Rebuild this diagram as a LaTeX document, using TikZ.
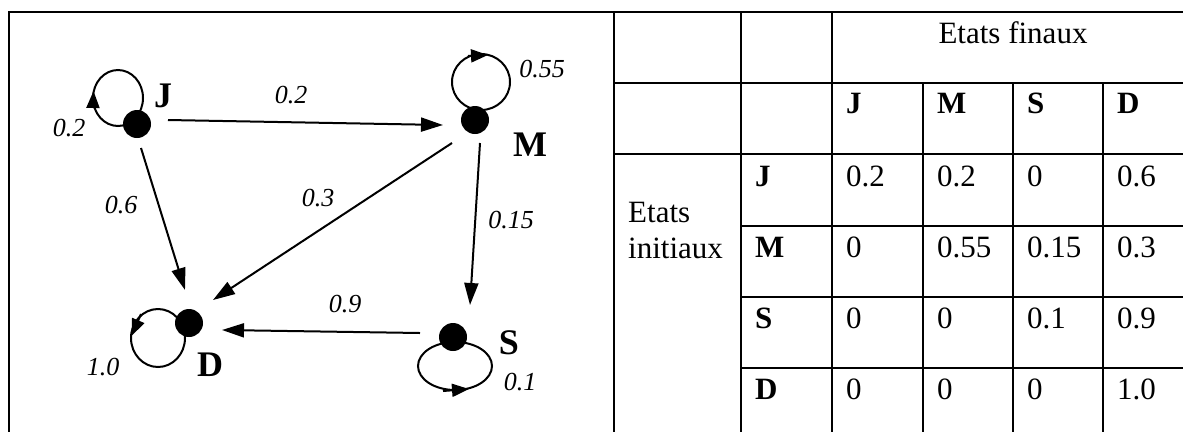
\documentclass[tikz,border=0pt]{standalone}
\usepackage{fontspec}
\setmainfont{Liberation Serif}
\usetikzlibrary{arrows.meta}
\begin{document}
\begin{tikzpicture}[x=1pt,y=-1pt,
  dot/.style={circle,fill=black,inner sep=0pt,minimum size=28pt},
  arr/.style={line width=2pt,-{Triangle[length=22pt,width=14pt]}},
  loopline/.style={line width=2pt},
  loophead/.style={line width=2pt,-{Triangle[length=17pt,width=13pt]}},
  st/.style={font=\fontsize{36}{42}\selectfont\bfseries, inner sep=0pt},
  pr/.style={font=\fontsize{26}{31}\selectfont\itshape, inner sep=0pt},
  tab/.style={line width=2.2pt},
  cell/.style={anchor=base west, inner sep=0pt, font=\fontsize{31}{37}\selectfont},
  cellb/.style={cell, font=\fontsize{31}{37}\selectfont\bfseries},
]
\useasboundingbox (0,0) rectangle (1183,432);
% frame
\draw[line width=1.5pt] (8,12) -- (614,12);
\draw[line width=2.7pt] (8,12) -- (22,12);
\draw[line width=2.7pt] (9,11) -- (9,432);
% states
\node[dot] (J) at (137,124) {};
\node[dot] (M) at (475,120) {};
\node[dot] (D) at (189,323) {};
\node[dot] (S) at (453,337) {};
% loops
\draw[loopline] ([shift={(-19,-26)}]J.center) ellipse [x radius=25pt, y radius=28pt];
\draw[loophead] ([shift={(-44,-16)}]J.center) -- ([shift={(-43.5,-33)}]J.center);
\draw[loopline] ([shift={(6,-38)}]M.center) ellipse [x radius=29pt, y radius=28pt];
\draw[loophead] ([shift={(-7,-64)}]M.center) -- ([shift={(13,-65)}]M.center);
\draw[loopline] ([shift={(-31,15)}]D.center) ellipse [x radius=27pt, y radius=29pt];
\draw[loophead] ([shift={(-48,-9)}]D.center) -- ([shift={(-57.5,13)}]D.center);
\draw[loopline] ([shift={(2,29)}]S.center) ellipse [x radius=37pt, y radius=24pt];
\draw[loophead] ([shift={(-10,54)}]S.center) -- ([shift={(16,52)}]S.center);
% transitions
\draw[arr] ([shift={(31,-4)}]J.center) -- ([shift={(-32,5)}]M.center);
\draw[arr] ([shift={(4,24)}]J.center) -- ([shift={(-4,-33)}]D.center);
\draw[arr] ([shift={(-23,23)}]M.center) -- ([shift={(24,-23)}]D.center);
\draw[arr] ([shift={(5,23)}]M.center) -- ([shift={(17,-32)}]S.center);
\draw[arr] ([shift={(-33,-4)}]S.center) -- ([shift={(33,7)}]D.center);
% state labels
\node[st] (lJ) at (163,96) {J};
\node[st] (lM) at (530,145) {M};
\node[st] (lD) at (210,365) {D};
\node[st] (lS) at (509,343) {S};
% probabilities
\node[pr] (pJJ) at (69,128) {0.2};
\node[pr] (pJM) at (291,95) {0.2};
\node[pr] (pMM) at (542,69) {0.55};
\node[pr] (pJD) at (121,205) {0.6};
\node[pr] (pMD) at (318,198) {0.3};
\node[pr] (pMS) at (511,220) {0.15};
\node[pr] (pSD) at (345,304) {0.9};
\node[pr] (pDD) at (103,367) {1.0};
\node[pr] (pSS) at (520,382) {0.1};
% table grid
\draw[tab] (614,12) -- (1183,12);
\draw[tab] (614,11) -- (614,432);
\draw[tab] (741,11) -- (741,432);
\draw[tab] (832,11) -- (832,432);
\foreach \xx in {923,1013,1103} \draw[tab] (\xx,83) -- (\xx,432);
\draw[tab] (614,83) -- (1183,83);
\draw[tab] (614,154) -- (1183,154);
\foreach \yy in {226,297,368} \draw[tab] (741,\yy) -- (1183,\yy);
% table text
\node[cell, anchor=base] (tf) at (1013,43) {Etats finaux};
\node[cell] (ti1) at (628,222) {Etats};
\node[cell] (ti2) at (628,258) {initiaux};
\node[cellb] (hJ) at (846,113) {J};
\node[cellb] (hM) at (937,113) {M};
\node[cellb] (hS) at (1027,113) {S};
\node[cellb] (hD) at (1117,113) {D};
\node[cellb] (rJ) at (755,186) {J};
\node[cellb] (rM) at (755,257) {M};
\node[cellb] (rS) at (755,328) {S};
\node[cellb] (rD) at (755,399) {D};
\node[cell] at (846,186) {0.2};
\node[cell] at (937,186) {0.2};
\node[cell] at (1027,186) {0};
\node[cell] at (1117,186) {0.6};
\node[cell] at (846,257) {0};
\node[cell] at (937,257) {0.55};
\node[cell] at (1027,257) {0.15};
\node[cell] at (1117,257) {0.3};
\node[cell] at (846,328) {0};
\node[cell] at (937,328) {0};
\node[cell] at (1027,328) {0.1};
\node[cell] at (1117,328) {0.9};
\node[cell] at (846,399) {0};
\node[cell] at (937,399) {0};
\node[cell] at (1027,399) {0};
\node[cell] at (1117,399) {1.0};
\end{tikzpicture}
\end{document}
